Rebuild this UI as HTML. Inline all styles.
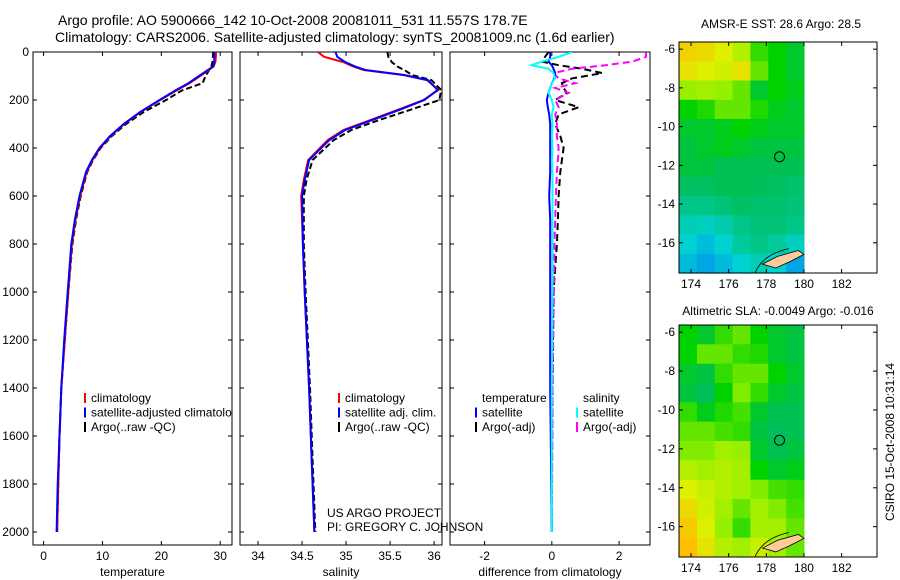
<!DOCTYPE html>
<html><head><meta charset="utf-8">
<style>
body{margin:0;background:#fff;}
svg{display:block;font-family:"Liberation Sans",sans-serif;}
text{font-size:12px;fill:#000;}
</style></head>
<body>
<svg id="fig" width="900" height="580" viewBox="0 0 900 580" xmlns="http://www.w3.org/2000/svg">
<text x="58" y="25" style="font-size:14px">Argo profile: AO 5900666_142 10-Oct-2008 20081011_531 11.557S 178.7E</text>
<text x="55" y="42" style="font-size:14px">Climatology: CARS2006. Satellite-adjusted climatology: synTS_20081009.nc (1.6d earlier)</text>
<text x="781" y="28" text-anchor="middle">AMSR-E SST: 28.6 Argo: 28.5</text>
<text x="778" y="315" text-anchor="middle">Altimetric SLA: -0.0049 Argo: -0.016</text>
<text transform="translate(894,442) rotate(-90)" text-anchor="middle">CSIRO 15-Oct-2008 10:31:14</text>
<g id="plots"></g>
</svg>
<script>
// ---- profile data ----
const depthT = [0, 40, 60, 80, 100, 130, 160, 200, 250, 300, 350, 400, 450, 500, 600, 700, 800, 1000, 1200, 1400, 1600, 1800, 2000];
const tempClim = [29.3, 29.2, 28.9, 27.8, 26.6, 24.8, 22.6, 19.8, 16.5, 13.7, 11.4, 9.6, 8.3, 7.3, 6.2, 5.4, 4.8, 4.2, 3.6, 3.0, 2.7, 2.5, 2.3];
const tempSat  = [29.0, 29.0, 28.8, 27.6, 26.4, 24.6, 22.4, 19.7, 16.4, 13.6, 11.3, 9.5, 8.2, 7.2, 6.1, 5.3, 4.7, 4.1, 3.5, 3.0, 2.7, 2.4, 2.2];
const tempArgo = [28.8, 28.7, 28.5, 28.0, 27.5, 27.0, 23.5, 20.8, 17.0, 14.0, 11.6, 9.7, 8.4, 7.4, 6.3, 5.5, 4.9, 4.2, 3.6, 3.0, 2.7, 2.5, 2.3];
const depthS = [0, 20, 42, 60, 75, 96, 117, 158, 200, 242, 283, 325, 367, 450, 533, 600, 800, 1000, 1400, 1700, 2000];
const salClim = [34.68, 34.75, 34.97, 35.08, 35.20, 35.65, 35.92, 36.05, 35.88, 35.58, 35.28, 34.97, 34.79, 34.57, 34.52, 34.49, 34.51, 34.53, 34.58, 34.61, 34.64];
const salSat  = [34.88, 34.90, 34.99, 35.10, 35.22, 35.66, 35.93, 36.04, 35.89, 35.60, 35.30, 34.99, 34.81, 34.58, 34.53, 34.50, 34.51, 34.53, 34.58, 34.61, 34.64];
const salArgo = [35.47, 35.48, 35.52, 35.58, 35.66, 35.75, 35.97, 36.08, 36.06, 35.72, 35.38, 35.06, 34.86, 34.62, 34.55, 34.52, 34.52, 34.54, 34.59, 34.62, 34.65];
// differences
const depthD = [0, 20, 40, 55, 70, 88, 110, 130, 150, 170, 200, 230, 260, 300, 350, 400, 450, 500, 600, 700, 800, 1000, 1400, 2000];
const diffTSat  = [-0.05, -0.05, -0.1, 0.0, 0.05, 0.1, 0.08, 0.0, -0.05, -0.1, -0.15, -0.12, -0.08, -0.05, -0.05, -0.05, -0.05, -0.05, -0.08, -0.05, -0.05, -0.05, -0.05, 0.0];
const diffTArgo = [-0.1, -0.2, -0.3, 0.2, 0.9, 1.5, 0.6, 0.3, 0.35, 0.45, 0.1, 0.8, 0.2, 0.1, 0.25, 0.35, 0.3, 0.25, 0.2, 0.18, 0.15, 0.05, 0.02, 0.0];
const diffSSat  = [0.6, 0.2, -0.3, -0.6, -0.1, 0.05, 0.1, 0.0, -0.05, -0.1, 0.0, 0.05, 0.0, 0.02, 0.0, 0.02, 0.0, 0.02, 0.02, 0.02, 0.02, 0.02, 0.0, 0.0];
const diffSArgo = [2.8, 2.8, 2.4, 1.6, 0.6, 0.05, 0.2, 0.7, 0.1, 0.5, 0.1, 0.2, 0.1, 0.15, 0.15, 0.2, 0.18, 0.15, 0.12, 0.1, 0.08, 0.06, 0.02, 0.0];
// tick labels
const depthTicks = [0, 200, 400, 600, 800, 1000, 1200, 1400, 1600, 1800, 2000];
const tTicks = [0, 10, 20, 30];
const sTicks = [34, 34.5, 35, 35.5, 36];
const sTickLabels = ["34", "34.5", "35", "35.5", "36"];
const dTicks = [-2, 0, 2];
const lonTicks = [174, 176, 178, 180, 182];
const latTicks = [-6, -8, -10, -12, -14, -16];
// map coarse fields
const sstField = [
 [0.80,0.78,0.72,0.65,0.50,0.45,0.40],
 [0.75,0.72,0.70,0.75,0.55,0.45,0.40],
 [0.60,0.62,0.60,0.55,0.40,0.45,0.42],
 [0.45,0.48,0.55,0.55,0.48,0.42,0.40],
 [0.40,0.40,0.42,0.45,0.42,0.40,0.40],
 [0.38,0.40,0.42,0.40,0.38,0.38,0.38],
 [0.38,0.38,0.36,0.36,0.36,0.36,0.36],
 [0.34,0.34,0.36,0.36,0.35,0.34,0.33],
 [0.30,0.30,0.32,0.34,0.33,0.33,0.32],
 [0.25,0.24,0.26,0.30,0.32,0.32,0.30],
 [0.22,0.20,0.22,0.28,0.30,0.28,0.24],
 [0.20,0.18,0.20,0.22,0.25,0.22,0.18]];
const slaField = [
 [0.45,0.40,0.50,0.55,0.45,0.40,0.38],
 [0.45,0.55,0.55,0.50,0.48,0.40,0.38],
 [0.40,0.38,0.50,0.55,0.55,0.45,0.40],
 [0.38,0.35,0.45,0.58,0.50,0.40,0.38],
 [0.50,0.42,0.48,0.52,0.40,0.36,0.36],
 [0.55,0.55,0.52,0.50,0.38,0.35,0.36],
 [0.58,0.58,0.62,0.60,0.40,0.36,0.38],
 [0.65,0.62,0.65,0.62,0.45,0.40,0.42],
 [0.72,0.68,0.65,0.62,0.58,0.52,0.50],
 [0.78,0.70,0.62,0.55,0.62,0.58,0.52],
 [0.82,0.72,0.60,0.50,0.62,0.62,0.55],
 [0.85,0.75,0.65,0.62,0.68,0.62,0.55]];

const NS = "http://www.w3.org/2000/svg";
const root = document.getElementById("plots");
function mk(tag, attrs, parent) {
  const e = document.createElementNS(NS, tag);
  for (const k in attrs) e.setAttribute(k, attrs[k]);
  (parent || root).appendChild(e);
  return e;
}
const Y0 = 52, YS = 0.24;
const yD = d => Y0 + d * YS;
const panels = [
  {name:"temperature", l:33, r:232, min:-1.8, max:32, ticks:tTicks, labels:tTicks.map(String), xlabel:"temperature"},
  {name:"salinity", l:240, r:442, min:33.795, max:36.09, ticks:sTicks, labels:sTickLabels, xlabel:"salinity"},
  {name:"difference", l:450, r:650, min:-3.03, max:2.92, ticks:dTicks, labels:dTicks.map(String), xlabel:"difference from climatology"}
];
const TOP = 52, BOT = 545;
panels.forEach((p, i) => {
  p.x = v => p.l + (v - p.min) / (p.max - p.min) * (p.r - p.l);
  const g = mk("g", {});
  
  
  const fr = mk("rect", {x:p.l, y:TOP, width:p.r-p.l, height:BOT-TOP, fill:"none", stroke:"#000", "stroke-width":1}, g);
  
  
  p.ticks.forEach((t, j) => {
    const x = p.x(t);
    mk("line", {x1:x, x2:x, y1:BOT, y2:BOT-4, stroke:"#000"}, g);
    mk("line", {x1:x, x2:x, y1:TOP, y2:TOP+4, stroke:"#000"}, g);
    const tl = mk("text", {x:x, y:BOT+15, "text-anchor":"middle"}, g);
    tl.textContent = p.labels[j];
    
    
  });
  depthTicks.forEach(d => {
    mk("line", {x1:p.l, x2:p.l+4, y1:yD(d), y2:yD(d), stroke:"#000"}, g);
    mk("line", {x1:p.r, x2:p.r-4, y1:yD(d), y2:yD(d), stroke:"#000"}, g);
    if (i === 0) {
      const tl = mk("text", {x:p.l-4, y:yD(d)+4, "text-anchor":"end"}, g);
      tl.textContent = d;
      
      
    }
  });
  const xl = mk("text", {x:(p.l+p.r)/2, y:576, "text-anchor":"middle"}, g);
  xl.textContent = p.xlabel;
  
  
  const cp = mk("clipPath", {id:"clip"+i}, g);
  mk("rect", {x:p.l, y:TOP, width:p.r-p.l, height:BOT-TOP}, cp);
});
function line(p, idx, depths, vals, color, dash, w, name) {
  const pts = depths.map((d, k) => p.x(vals[k]).toFixed(1) + "," + yD(d).toFixed(1)).join(" ");
  const pl = mk("polyline", {points:pts, fill:"none", stroke:color, "stroke-width":w, "clip-path":"url(#clip"+idx+")"});
  if (dash) pl.setAttribute("stroke-dasharray", dash);
  
  
}
line(panels[0], 0, depthT, tempArgo, "#000", "6,3", 2, "temp-argo-line");
line(panels[0], 0, depthT, tempClim, "#f00", null, 2, "temp-climatology-line");
line(panels[0], 0, depthT, tempSat, "#00f", null, 2, "temp-satellite-line");
line(panels[1], 1, depthS, salArgo, "#000", "6,3", 2, "sal-argo-line");
line(panels[1], 1, depthS, salClim, "#f00", null, 2, "sal-climatology-line");
line(panels[1], 1, depthS, salSat, "#00f", null, 2, "sal-satellite-line");
line(panels[2], 2, depthD, diffTArgo, "#000", "7,4", 2, "diff-temp-argo-line");
line(panels[2], 2, depthD, diffSArgo, "#f0f", "7,4", 2, "diff-sal-argo-line");
line(panels[2], 2, depthD, diffTSat, "#00f", null, 2, "diff-temp-satellite-line");
line(panels[2], 2, depthD, diffSSat, "#0ff", null, 2, "diff-sal-satellite-line");

function legend(x, y, items, clipIdx, name) {
  const g = mk("g", {"clip-path": clipIdx != null ? "url(#clip"+clipIdx+")" : ""});
  
  
  items.forEach((it, k) => {
    const yy = y + k * 14.5;
    if (it[1]) mk("line", {x1:x, x2:x, y1:yy-9, y2:yy+1, stroke:it[1], "stroke-width":2}, g);
    const t = mk("text", {x:x+6, y:yy}, g);
    t.textContent = it[0];
    
    
  });
}
legend(85, 402, [["climatology","#f00"],["satellite-adjusted climatology","#00f"],["Argo(..raw -QC)","#000"]], 0, "temp-legend");
legend(339, 402, [["climatology","#f00"],["satellite adj. clim.","#00f"],["Argo(..raw -QC)","#000"]], null, "sal-legend");
legend(476, 402, [["temperature",null],["satellite","#00f"],["Argo(-adj)","#000"]], null, "diff-temp-legend");
legend(577, 402, [["salinity",null],["satellite","#0ff"],["Argo(-adj)","#f0f"]], null, "diff-sal-legend");
const pr1 = mk("text", {x:327, y:517}); pr1.textContent = "US ARGO PROJECT";
 
const pr2 = mk("text", {x:327, y:531}); pr2.textContent = "PI: GREGORY C. JOHNSON";
 

// ---- maps ----
function cmap(v) {
  const stops = [[0,[0,0,160]],[0.12,[0,100,255]],[0.22,[0,210,210]],[0.35,[0,190,90]],[0.45,[0,210,0]],[0.6,[150,240,0]],[0.72,[220,240,0]],[0.85,[255,190,0]],[1,[255,120,0]]];
  for (let i = 1; i < stops.length; i++) if (v <= stops[i][0]) {
    const a = stops[i-1], b = stops[i], f = (v - a[0]) / (b[0] - a[0]);
    return "rgb(" + a[1].map((c, k) => Math.round(c + f * (b[1][k] - c))).join(",") + ")";
  }
  return "rgb(255,120,0)";
}
function map(top, bottom, field, name) {
  const L = 679, R = 877;
  const lonX = lon => 691 + (lon - 174) * 18.83;
  const latYscale = (bottom - top) / 11.93;
  const latY = lat => top + (-5.63 - lat) * latYscale;
  const g = mk("g", {});
  
  
  const rows = field.length, cols = field[0].length;
  const x0 = L, x1 = lonX(180), cw = (x1 - x0) / cols, rh = (bottom - top) / rows;
  field.forEach((row, r) => row.forEach((v, c) => {
    const cell = mk("rect", {x:(x0 + c*cw).toFixed(1), y:(top + r*rh).toFixed(1), width:(cw+0.5).toFixed(1), height:(rh+0.5).toFixed(1), fill:cmap(v)}, g);
    
    
  }));
  const isl = mk("path", {d:`M${lonX(177.8)},${latY(-17.1)} L${lonX(178.6)},${latY(-16.7)} L${lonX(179.7)},${latY(-16.4)} L${lonX(180)},${latY(-16.6)} L${lonX(179.2)},${latY(-17.0)} L${lonX(178.5)},${latY(-17.3)} Z`, fill:"#fc9", stroke:"#000", "stroke-width":0.8}, g);
  
  
  mk("path", {d:`M${lonX(177.4)},${latY(-17.56)} Q${lonX(177.8)},${latY(-16.6)} ${lonX(179.2)},${latY(-16.3)}`, fill:"none", stroke:"#000", "stroke-width":0.8}, g);
  const f = mk("rect", {x:L, y:top, width:R-L, height:bottom-top, fill:"none", stroke:"#000"}, g);
  
  
  const c = mk("circle", {cx:lonX(178.7), cy:latY(-11.557), r:5, fill:"none", stroke:"#000"}, g);
  
  
  lonTicks.forEach(t => {
    const x = lonX(t);
    mk("line", {x1:x, x2:x, y1:bottom, y2:bottom-4, stroke:"#000"}, g);
    mk("line", {x1:x, x2:x, y1:top, y2:top+4, stroke:"#000"}, g);
    const tl = mk("text", {x:x, y:bottom+15, "text-anchor":"middle"}, g);
    tl.textContent = t;
    
    
  });
  latTicks.forEach(t => {
    const y = latY(t);
    mk("line", {x1:L, x2:L+4, y1:y, y2:y, stroke:"#000"}, g);
    mk("line", {x1:R, x2:R-4, y1:y, y2:y, stroke:"#000"}, g);
    const tl = mk("text", {x:L-4, y:y+4, "text-anchor":"end"}, g);
    tl.textContent = t;
    
    
  });
}
map(42, 273, sstField, "sst-map");
map(325, 557, slaField, "sla-map");
</script>
</body></html>
